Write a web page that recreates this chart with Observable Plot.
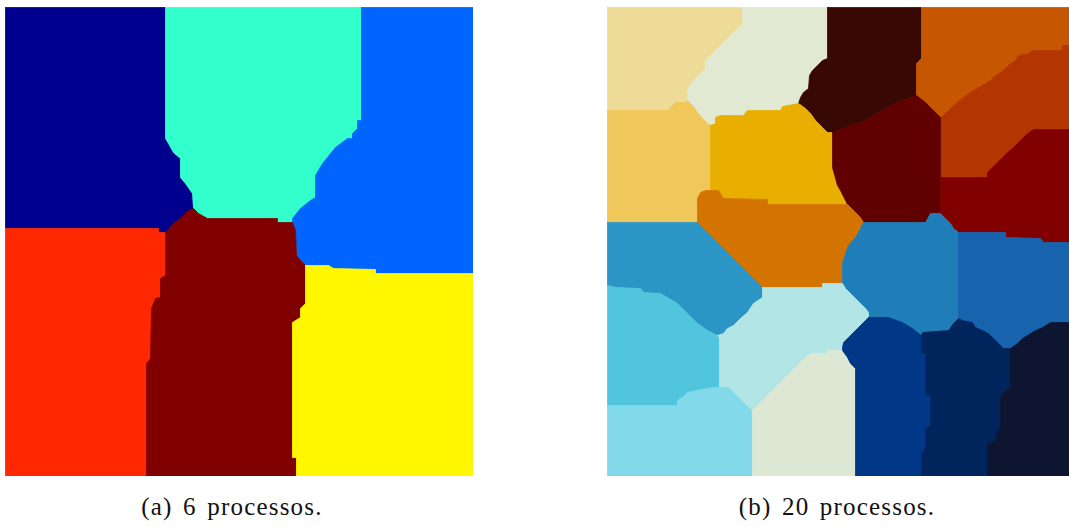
<!DOCTYPE html>
<html>
<head>
<meta charset="utf-8">
<script src="https://cdn.jsdelivr.net/npm/d3@7"></script>
<script src="https://cdn.jsdelivr.net/npm/@observablehq/plot@0.6"></script>
<style>
  html, body { margin: 0; padding: 0; background: #fff; }
  #page { position: relative; width: 1069px; height: 527px; overflow: hidden; }
  .panel { position: absolute; top: 7px; }
  .cap { position: absolute; top: 493px; font-family: "Liberation Serif", "DejaVu Serif", serif; font-size: 25px; letter-spacing: 1.2px; word-spacing: 3px; color: #111; white-space: nowrap; transform: translateX(-50%); }
</style>
</head>
<body>
<div id="page">
  <div id="pa" class="panel" style="left:5px"></div>
  <div id="pb" class="panel" style="left:607px"></div>
  <div class="cap" style="left:232px">(a) 6 processos.</div>
  <div class="cap" style="left:837px">(b) 20 processos.</div>
</div>
<script>
// ---------- Panel (a): 6 processes; grid domain u 0..468, v 0..469 (v downward) ----------
const regionsA = ["P1", "P2", "P3", "P4", "P5", "P6"];
const boundaryA = [
  // P1 (top-left)
  [[0,0],[160,0],[160,131],[163,136],[168,145],[175,151],[175,170],[180,176],[187,186],[188,201],[183,203],[175,211],[168,216],[163,222],[160,225],[153,225],[153,221],[0,221]],
  // P2 (top-centre)
  [[160,0],[356,0],[356,113],[352,113],[352,121],[347,126],[347,131],[342,131],[330,140],[317,156],[310,168],[310,190],[305,193],[295,201],[287,211],[287,215],[272,215],[272,211],[202,211],[193,206],[188,201],[187,186],[180,176],[175,170],[175,151],[168,145],[163,136],[160,131]],
  // P3 (top-right)
  [[356,0],[468,0],[468,266],[370,266],[370,262],[328,261],[323,258],[300,258],[295,253],[291,248],[290,223],[287,215],[287,211],[295,201],[305,193],[310,190],[310,168],[317,156],[330,140],[342,131],[347,131],[347,126],[352,121],[352,113],[356,113]],
  // P4 (bottom-left)
  [[0,221],[153,221],[153,225],[160,225],[160,268],[155,271],[155,290],[150,291],[146,301],[145,351],[141,356],[141,469],[0,469]],
  // P5 (bottom-centre)
  [[160,225],[163,222],[168,216],[175,211],[183,203],[188,201],[193,206],[202,211],[272,211],[272,215],[287,215],[290,223],[291,248],[295,253],[300,258],[300,296],[295,301],[295,310],[287,315],[287,450],[291,450],[291,469],[141,469],[141,356],[145,351],[146,301],[150,291],[155,290],[155,271],[160,268]],
  // P6 (bottom-right)
  [[300,258],[323,258],[328,261],[370,262],[370,266],[468,266],[468,469],[291,469],[291,450],[287,450],[287,315],[295,310],[295,301],[300,296]]
];
const coloursA = ["#00008F", "#33FFCC", "#0064FF", "#FF2800", "#800000", "#FFF700"];

// ---------- Panel (b): 20 processes; grid domain u 0..462, v 0..469 ----------
const regionsB = ["Q1","Q2","Q3","Q4","Q5","Q6","Q7","Q8","Q9","Q10","Q11","Q12","Q13","Q14","Q15","Q16","Q17","Q18","Q19","Q20"];
const boundaryB = [
  // Q1 tan
  [[0,0],[135,0],[135,18],[131,20],[126,25],[121,30],[116,35],[111,40],[106,45],[98,53],[98,61],[93,66],[88,71],[84,76],[80,83],[80,93],[78,95],[68,95],[63,100],[61,103],[0,103]],
  // Q2 sage
  [[135,0],[220,0],[220,51],[215,53],[210,58],[205,63],[202,68],[201,81],[196,85],[193,90],[191,96],[175,99],[173,103],[140,103],[136,108],[113,108],[108,110],[108,116],[103,118],[100,116],[95,111],[90,105],[85,98],[80,93],[80,83],[84,76],[88,71],[93,66],[98,61],[98,53],[106,45],[111,40],[116,35],[121,30],[126,25],[131,20],[135,18]],
  // Q3 dark brown
  [[220,0],[314,0],[314,51],[309,56],[309,88],[303,90],[290,95],[278,101],[263,110],[251,116],[235,121],[225,125],[220,125],[215,120],[208,113],[203,106],[198,101],[191,96],[193,90],[196,85],[201,81],[202,68],[205,63],[210,58],[215,53],[220,51]],
  // Q4 orange-brown
  [[314,0],[462,0],[462,38],[455,38],[455,43],[425,43],[421,46],[411,48],[408,53],[403,56],[398,61],[393,65],[388,68],[383,73],[378,76],[371,80],[366,83],[361,86],[356,90],[351,94],[346,98],[341,103],[336,108],[333,110],[328,105],[323,100],[318,95],[313,91],[309,88],[309,56],[314,51]],
  // Q5 rust
  [[333,110],[336,108],[341,103],[346,98],[351,94],[356,90],[361,86],[366,83],[371,80],[378,76],[383,73],[388,68],[393,65],[398,61],[403,56],[408,53],[411,48],[421,46],[425,43],[455,43],[455,38],[462,38],[462,122],[426,122],[420,126],[415,131],[410,136],[405,141],[400,145],[395,150],[390,155],[385,160],[380,165],[380,170],[333,170]],
  // Q6 light gold
  [[0,103],[61,103],[63,100],[68,95],[78,95],[80,93],[85,98],[90,105],[95,111],[100,116],[103,118],[103,183],[98,183],[93,185],[90,191],[90,215],[0,215]],
  // Q7 gold
  [[103,118],[108,116],[108,110],[113,108],[136,108],[140,103],[173,103],[175,99],[191,96],[198,101],[203,106],[208,113],[215,120],[220,125],[225,125],[225,160],[230,178],[233,183],[238,193],[240,197],[160,197],[160,192],[116,191],[111,183],[103,183]],
  // Q8 dark maroon
  [[225,125],[235,121],[251,116],[263,110],[278,101],[290,95],[303,90],[309,88],[313,91],[318,95],[323,100],[328,105],[333,110],[333,206],[323,206],[318,215],[256,215],[253,210],[246,203],[240,197],[238,193],[233,183],[230,178],[225,160]],
  // Q9 maroon
  [[333,170],[380,170],[380,165],[385,160],[390,155],[395,150],[400,145],[405,141],[410,136],[415,131],[420,126],[426,122],[462,122],[462,235],[436,235],[433,231],[398,230],[398,225],[351,225],[346,221],[343,216],[338,211],[333,206]],
  // Q10 orange
  [[90,191],[93,185],[98,183],[103,183],[111,183],[116,191],[160,192],[160,197],[240,197],[246,203],[253,210],[256,215],[253,221],[248,230],[241,238],[238,246],[235,256],[235,276],[215,276],[215,280],[155,280],[90,215]],
  // Q11 steel blue
  [[0,215],[90,215],[155,280],[155,290],[146,296],[140,305],[133,311],[126,318],[120,321],[116,326],[110,328],[100,323],[90,316],[80,306],[70,296],[53,286],[36,285],[33,281],[8,280],[0,278]],
  // Q12 blue
  [[256,215],[318,215],[323,206],[333,206],[338,211],[343,216],[346,221],[351,225],[351,311],[346,316],[341,323],[315,325],[314,328],[310,325],[305,321],[300,318],[295,315],[281,310],[261,310],[261,305],[258,301],[253,296],[248,291],[243,286],[238,281],[235,276],[235,256],[238,246],[241,238],[248,230],[253,221]],
  // Q13 blue
  [[351,225],[398,225],[398,230],[433,231],[436,235],[462,235],[462,315],[443,315],[435,320],[428,323],[420,328],[415,331],[410,336],[403,341],[396,341],[391,336],[386,331],[381,326],[375,323],[368,320],[365,315],[355,313],[351,311]],
  // Q14 light cyan
  [[0,278],[8,280],[33,281],[36,285],[53,286],[70,296],[80,306],[90,316],[100,323],[110,328],[112,330],[112,380],[105,380],[80,385],[75,390],[70,393],[70,398],[0,398]],
  // Q15 pale cyan
  [[155,280],[215,280],[215,276],[235,276],[238,281],[243,286],[248,291],[253,296],[258,301],[261,305],[261,310],[256,315],[251,320],[246,325],[241,330],[236,335],[235,340],[235,343],[220,343],[220,346],[205,346],[200,348],[145,403],[141,400],[136,395],[131,390],[126,385],[121,380],[112,380],[112,330],[110,328],[116,326],[120,321],[126,318],[133,311],[140,305],[146,296],[155,290]],
  // Q16 light sky
  [[0,398],[70,398],[70,393],[75,390],[80,385],[105,380],[112,380],[121,380],[126,385],[131,390],[136,395],[141,400],[145,403],[145,469],[0,469]],
  // Q17 pale green
  [[145,403],[200,348],[205,346],[220,346],[220,343],[235,343],[240,350],[243,356],[248,361],[248,469],[145,469]],
  // Q18 dark blue
  [[261,310],[281,310],[295,315],[300,318],[305,321],[310,325],[314,328],[314,346],[318,346],[318,388],[323,388],[323,418],[318,421],[318,440],[314,446],[314,469],[248,469],[248,361],[243,356],[240,350],[235,343],[235,340],[236,335],[241,330],[246,325],[251,320],[256,315]],
  // Q19 navy
  [[314,328],[315,325],[341,323],[346,316],[351,311],[355,313],[365,315],[368,320],[375,323],[381,326],[386,331],[391,336],[396,341],[403,341],[403,380],[398,383],[393,390],[393,420],[390,423],[388,433],[380,436],[380,469],[314,469],[314,446],[318,440],[318,421],[323,418],[323,388],[318,388],[318,346],[314,346]],
  // Q20 dark navy
  [[403,341],[410,336],[415,331],[420,328],[428,323],[435,320],[443,315],[462,315],[462,469],[380,469],[380,436],[388,433],[390,423],[393,420],[393,390],[398,383],[403,380]]
];
const coloursB = ["#EEDB98","#E1E9D3","#380802","#C65600","#B33500","#F0C75A","#E8AE00","#600000","#800000","#D47400",
                  "#2B95C5","#1F7EB8","#1763AD","#52C5DE","#B2E6E6","#82D9E9","#DDE8D4","#003787","#00245C","#0D1530"];

function toTable(names, polys) {
  const rows = [];
  names.forEach((name, i) => {
    const pts = polys[i];
    [...pts, pts[0]].forEach(([u, v]) => rows.push({region: name, u, v}));
  });
  return rows;
}

function partition(names, polys, colours, w, h) {
  return Plot.plot({
    width: w, height: h,
    margin: 0,
    x: {domain: [0, w], axis: null},
    y: {domain: [0, h], reverse: true, axis: null},
    color: {domain: names, range: colours},
    marks: [
      Plot.line(toTable(names, polys), {
        x: "u", y: "v", z: "region",
        fill: "region", stroke: "region",
        strokeWidth: 0.8, strokeLinejoin: "miter"
      })
    ]
  });
}

document.getElementById("pa").append(partition(regionsA, boundaryA, coloursA, 468, 469));
document.getElementById("pb").append(partition(regionsB, boundaryB, coloursB, 462, 469));
</script>
</body>
</html>
